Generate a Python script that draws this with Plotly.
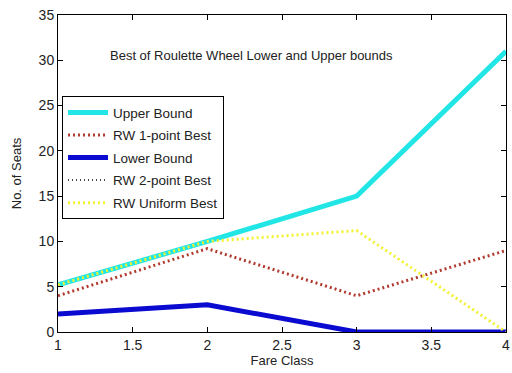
import plotly.graph_objects as go

fare_class = [1, 2, 3, 4]
upper_bound = [5.2, 10, 15, 31]
rw_1point_best = [4, 9.2, 4, 9]
lower_bound = [2, 3, 0, 0]
rw_2point_best = [2, 3, 0, 0]
rw_uniform_best = [5.2, 10, 11.2, 0]

FONT = "Liberation Sans, Arial"
TEXT = "#222"

fig = go.Figure()

# 2-point best coincides with the lower bound; drawn first so the bound sits on top
fig.add_trace(go.Scatter(x=fare_class, y=rw_2point_best, mode="lines", name="RW 2-point Best",
                         line=dict(color="black", width=1.5, dash="1px,3px"), legendrank=4))
fig.add_trace(go.Scatter(x=fare_class, y=upper_bound, mode="lines", name="Upper Bound",
                         line=dict(color="#22e6e6", width=5), legendrank=1))
fig.add_trace(go.Scatter(x=fare_class, y=rw_1point_best, mode="lines", name="RW 1-point Best",
                         line=dict(color="#b03a2e", width=3, dash="2px,3px"), legendrank=2))
fig.add_trace(go.Scatter(x=fare_class, y=lower_bound, mode="lines", name="Lower Bound",
                         line=dict(color="#0a0ad0", width=5), legendrank=3))
fig.add_trace(go.Scatter(x=fare_class, y=rw_uniform_best, mode="lines", name="RW Uniform Best",
                         line=dict(color="#f2f230", width=3, dash="2px,3px"), legendrank=5))

for i, tr in enumerate(fig.data):
    tr.legendgroup = f"g{i}"

axis_common = dict(showline=True, linecolor="black", linewidth=1, mirror="ticks",
                   ticks="inside", ticklen=5, tickcolor="black", showgrid=False,
                   zeroline=False, tickfont=dict(family=FONT, size=14, color=TEXT))

fig.update_xaxes(range=[1, 4], dtick=0.5, title=dict(text="Fare Class", standoff=4,
                 font=dict(family=FONT, size=13, color=TEXT)), **axis_common)
fig.update_yaxes(range=[0, 35], dtick=5, title=dict(text="No. of Seats", standoff=14,
                 font=dict(family=FONT, size=13, color=TEXT)), **axis_common)

fig.add_annotation(x=1.335, y=30.5, xref="x", yref="y", xanchor="left", yanchor="middle",
                   text="Best of Roulette Wheel Lower and Upper bounds", showarrow=False,
                   font=dict(family=FONT, size=13, color=TEXT))

fig.update_layout(
    width=512, height=373,
    margin=dict(l=58, r=6, t=15, b=41, autoexpand=False),
    paper_bgcolor="white", plot_bgcolor="white",
    legend=dict(x=0.009, y=0.744, xanchor="left", yanchor="top",
                bgcolor="white", bordercolor="black", borderwidth=1,
                font=dict(family=FONT, size=13.5, color=TEXT),
                tracegroupgap=2, itemwidth=40),
    showlegend=True,
)

fig.write_html("out.html")
